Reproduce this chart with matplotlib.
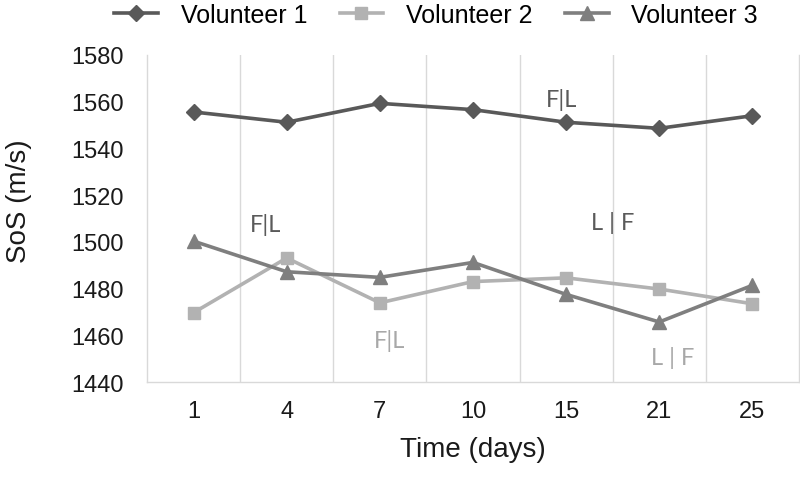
import numpy as np
import matplotlib

matplotlib.use("Agg")
import matplotlib.pyplot as plt

plt.rcParams["font.family"] = ["Liberation Sans", "DejaVu Sans"]

# ---- data ----
days = ["1", "4", "7", "10", "15", "21", "25"]
vol1 = [1555.6, 1551.2, 1559.3, 1556.6, 1551.2, 1548.6, 1554.0]
vol2 = [1469.7, 1493.1, 1473.9, 1483.0, 1484.6, 1479.8, 1473.5]
vol3 = [1500.3, 1487.2, 1484.8, 1491.2, 1477.5, 1465.7, 1481.4]
series_names = ["Volunteer 1", "Volunteer 2", "Volunteer 3"]

# annotations: (text, category position, value, colour)
notes = [
    ("F|L", 0.77, 1507.5, "#5a5a5a"),
    ("F|L", 3.95, 1561.0, "#5a5a5a"),
    ("L | F", 4.5, 1508.5, "#5a5a5a"),
    ("F|L", 2.1, 1458.2, "#a8a8a8"),
    ("L | F", 5.14, 1450.5, "#a8a8a8"),
]

fig = plt.figure(figsize=(8.0, 4.81), dpi=100)
ax = fig.add_axes([0.18375, 0.2037, 0.815, 0.6799])

x = np.arange(len(days))
styles = [
    dict(color="#595959", marker="D", ms=8.5),
    dict(color="#b2b2b2", marker="s", ms=9),
    dict(color="#7f7f7f", marker="^", ms=10),
]
for vals, name, st in zip([vol1, vol2, vol3], series_names, styles):
    ax.plot(x, vals, lw=2.6, label=name, **st)

ax.set_xlim(-0.5, len(days) - 0.5)
ax.set_ylim(1440, 1580)
ax.set_yticks(np.arange(1440, 1581, 20))
ax.set_xticks(x)
ax.set_xticklabels(days)

# excel-style category-boundary gridlines
for b in np.arange(0.5, len(days) - 0.5, 1.0):
    ax.axvline(b, color="#d9d9d9", lw=1.0, zorder=0)

for side in ["left", "right", "bottom"]:
    ax.spines[side].set_color("#d9d9d9")
    ax.spines[side].set_linewidth(1.0)
ax.spines["top"].set_visible(False)

ax.tick_params(axis="both", length=0, labelsize=17, colors="#1a1a1a")
ax.tick_params(axis="y", pad=17)
ax.tick_params(axis="x", pad=13)

for txt, xp, yp, col in notes:
    ax.text(xp, yp, txt, color=col, fontsize=17, family=["Lato", "DejaVu Sans"],
            ha="center", va="center")

ax.set_xlabel("Time (days)", fontsize=20, labelpad=10, color="#1a1a1a")
fig.text(0.024, 1 - 201 / 481, "SoS (m/s)", rotation=90, fontsize=20,
         ha="center", va="center", color="#1a1a1a")

fig.legend(loc="center", bbox_to_anchor=(0.545, 1 - 16 / 481), ncol=3,
           frameon=False, fontsize=18, handlelength=1.75, handletextpad=0.9,
           columnspacing=1.3, borderaxespad=0)

fig.savefig("out.png", dpi=100)
